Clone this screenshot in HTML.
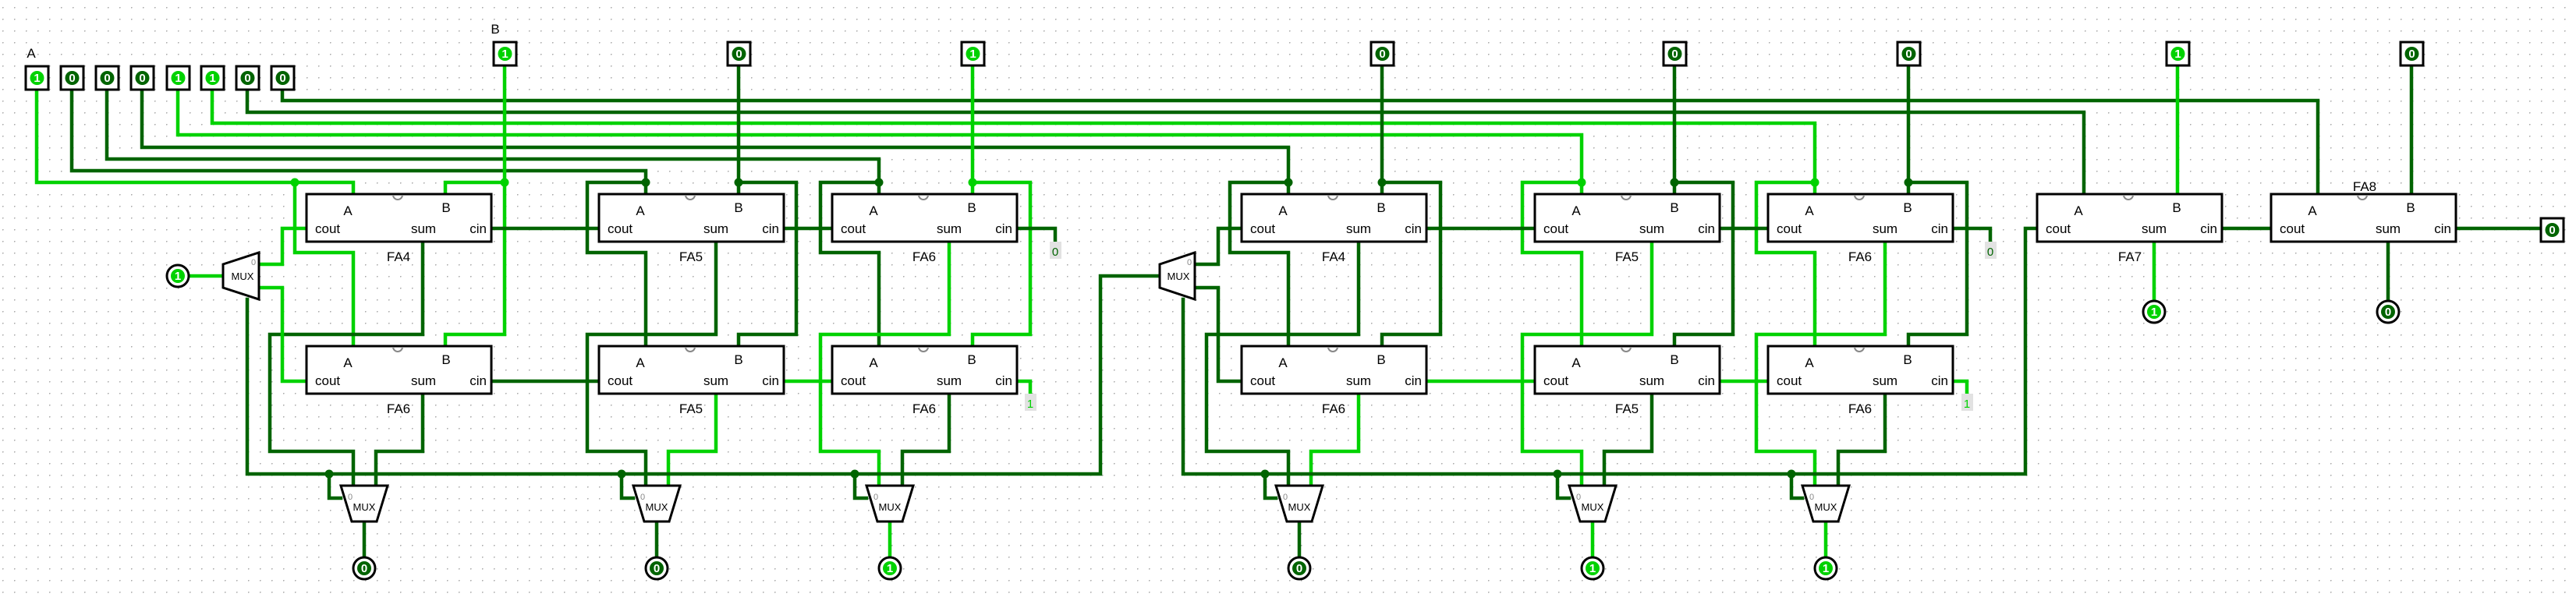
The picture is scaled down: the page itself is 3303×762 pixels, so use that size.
<!DOCTYPE html>
<html><head><meta charset="utf-8"><style>
html,body{margin:0;padding:0;background:#fff;}
svg{display:block;}
text{font-family:"Liberation Sans",sans-serif;}
.d{stroke:#006400;stroke-width:4.5;fill:none;stroke-linejoin:miter;stroke-linecap:square}
.g{stroke:#00d200;stroke-width:4.5;fill:none;stroke-linejoin:miter;stroke-linecap:square}
.bx{fill:none;stroke:#000;stroke-width:3}
.lb{font-size:17px;fill:#000}
.mx{fill:#fff;stroke:#000;stroke-width:3}
.pv{font-size:15px;font-weight:bold;fill:#fff;text-anchor:middle}
</style></head><body>
<svg width="3303" height="762" viewBox="0 0 3303 762" xmlns="http://www.w3.org/2000/svg">
<defs>
<pattern id="grid" x="3" y="9" width="15" height="15" patternUnits="userSpaceOnUse">
<circle cx="0.75" cy="0.75" r="0.9" fill="#aaa"/>
</pattern>
<g id="fa">
<rect x="0" y="0" width="237" height="61" fill="#fff" stroke="#000" stroke-width="3"/>
<path d="M111 1 A6 6 0 0 0 123 1" fill="none" stroke="#888" stroke-width="2"/>
<text x="53" y="27" class="lb" text-anchor="middle">A</text>
<text x="179" y="23" class="lb" text-anchor="middle">B</text>
<text x="11" y="50" class="lb">cout</text>
<text x="150" y="50" class="lb" text-anchor="middle">sum</text>
<text x="231" y="50" class="lb" text-anchor="end">cin</text>
</g>
</defs>
<rect width="3303" height="762" fill="url(#grid)"/>

<!-- A bus -->
<path class="g" d="M47 115 V234 H453 V249"/>
<path class="d" d="M92 115 V219 H828 V249"/>
<path class="d" d="M137 115 V204 H1127 V249"/>
<path class="d" d="M182 115 V189 H1652 V249"/>
<path class="g" d="M228 115 V173 H2028 V249"/>
<path class="g" d="M272 115 V158 H2327 V249"/>
<path class="d" d="M317 115 V144 H2672 V249"/>
<path class="d" d="M362 115 V129 H2972 V249"/>

<!-- B lines -->
<path class="g" d="M647 85 V429 H571 V444"/>
<path class="g" d="M647 234 H571 V249"/>
<path class="d" d="M947 85 V249"/><path class="d" d="M947 234 H1021 V429 H947 V444"/>
<path class="g" d="M1247 85 V249"/><path class="g" d="M1247 234 H1321 V429 H1247 V444"/>
<path class="d" d="M1772 85 V249"/><path class="d" d="M1772 234 H1847 V429 H1772 V444"/>
<path class="d" d="M2147 85 V249"/><path class="d" d="M2147 234 H2222 V429 H2147 V444"/>
<path class="d" d="M2447 85 V249"/><path class="d" d="M2447 234 H2522 V429 H2447 V444"/>
<path class="g" d="M2792 85 V249"/>
<path class="d" d="M3092 85 V249"/>

<!-- A column routing -->
<path class="g" d="M378 234 V324 H453 V444"/>
<path class="d" d="M828 234 H753 V324 H828 V444"/>
<path class="d" d="M1127 234 H1052 V324 H1127 V444"/>
<path class="d" d="M1652 234 H1577 V324 H1652 V444"/>
<path class="g" d="M2028 234 H1952 V324 H2028 V444"/>
<path class="g" d="M2327 234 H2252 V324 H2327 V444"/>

<!-- top sums -->
<path class="d" d="M542 310 V429 H346 V579 H453 V623"/>
<path class="d" d="M918 310 V429 H753 V579 H828 V623"/>
<path class="g" d="M1217 310 V429 H1052 V579 H1127 V623"/>
<path class="d" d="M1742 310 V429 H1547 V579 H1652 V623"/>
<path class="g" d="M2118 310 V429 H1952 V579 H2028 V623"/>
<path class="g" d="M2417 310 V429 H2252 V579 H2327 V623"/>
<!-- lower sums -->
<path class="d" d="M542 505 V579 H482 V623"/>
<path class="g" d="M918 505 V579 H857 V623"/>
<path class="d" d="M1217 505 V579 H1157 V623"/>
<path class="g" d="M1742 505 V579 H1681 V623"/>
<path class="d" d="M2118 505 V579 H2057 V623"/>
<path class="d" d="M2417 505 V579 H2357 V623"/>

<!-- carries -->
<path class="d" d="M630 293 H768"/><path class="d" d="M630 489 H768"/>
<path class="d" d="M1005 293 H1067"/><path class="g" d="M1005 489 H1067"/>
<path class="d" d="M1304 293 H1353 V310"/><path class="g" d="M1304 489 H1321 V505"/>
<path class="d" d="M1829 293 H1968"/><path class="g" d="M1829 489 H1968"/>
<path class="d" d="M2205 293 H2267"/><path class="g" d="M2205 489 H2267"/>
<path class="d" d="M2504 293 H2552 V310"/><path class="g" d="M2504 489 H2522 V505"/>
<path class="d" d="M2849 293 H2912"/>
<path class="d" d="M3149 293 H3258"/>
<path class="g" d="M2762 310 V386"/>
<path class="d" d="M3062 310 V386"/>

<!-- left mux nets -->
<path class="g" d="M393 293 H362 V339 H332"/>
<path class="g" d="M393 489 H362 V369 H332"/>
<path class="g" d="M228 354 H286"/>
<path class="d" d="M317 384 V608 H1411 V354 H1487"/>
<path class="d" d="M1592 293 H1562 V339 H1532"/>
<path class="d" d="M1592 489 H1562 V369 H1532"/>
<path class="d" d="M1517 384 V608 H2597 V293 H2612"/>

<!-- bottom mux selects & outputs -->
<path class="d" d="M422 608 V639 H437"/><path class="d" d="M467 670 V714"/>
<path class="d" d="M797 608 V639 H812"/><path class="d" d="M842 670 V714"/>
<path class="d" d="M1096 608 V639 H1111"/><path class="g" d="M1141 670 V714"/>
<path class="d" d="M1622 608 V639 H1636"/><path class="d" d="M1666 670 V714"/>
<path class="d" d="M1997 608 V639 H2012"/><path class="g" d="M2042 670 V714"/>
<path class="d" d="M2297 608 V639 H2311"/><path class="g" d="M2341 670 V714"/>

<!-- junction dots -->
<g fill="#00d200"><circle cx="378" cy="234" r="5.5"/><circle cx="647" cy="234" r="5.5"/><circle cx="1247" cy="234" r="5.5"/><circle cx="2028" cy="234" r="5.5"/><circle cx="2327" cy="234" r="5.5"/></g>
<g fill="#006400"><circle cx="828" cy="234" r="5.5"/><circle cx="947" cy="234" r="5.5"/><circle cx="1127" cy="234" r="5.5"/><circle cx="1652" cy="234" r="5.5"/><circle cx="1772" cy="234" r="5.5"/><circle cx="2147" cy="234" r="5.5"/><circle cx="2447" cy="234" r="5.5"/>
<circle cx="422" cy="608" r="5.5"/><circle cx="797" cy="608" r="5.5"/><circle cx="1096" cy="608" r="5.5"/><circle cx="1622" cy="608" r="5.5"/><circle cx="1997" cy="608" r="5.5"/><circle cx="2297" cy="608" r="5.5"/></g>

<!-- FA boxes -->
<use href="#fa" x="393" y="249"/><use href="#fa" x="393" y="444"/>
<use href="#fa" x="768" y="249"/><use href="#fa" x="768" y="444"/>
<use href="#fa" x="1067" y="249"/><use href="#fa" x="1067" y="444"/>
<use href="#fa" x="1592" y="249"/><use href="#fa" x="1592" y="444"/>
<use href="#fa" x="1968" y="249"/><use href="#fa" x="1968" y="444"/>
<use href="#fa" x="2267" y="249"/><use href="#fa" x="2267" y="444"/>
<use href="#fa" x="2612" y="249"/><use href="#fa" x="2912" y="249"/>
<g class="lb" text-anchor="middle">
<text x="511" y="335">FA4</text><text x="511" y="530">FA6</text>
<text x="886" y="335">FA5</text><text x="886" y="530">FA5</text>
<text x="1185" y="335">FA6</text><text x="1185" y="530">FA6</text>
<text x="1710" y="335">FA4</text><text x="1710" y="530">FA6</text>
<text x="2086" y="335">FA5</text><text x="2086" y="530">FA5</text>
<text x="2385" y="335">FA6</text><text x="2385" y="530">FA6</text>
<text x="2731" y="335">FA7</text><text x="3032" y="245">FA8</text>
<text x="40" y="74">A</text><text x="635" y="43">B</text>
</g>

<!-- constants -->
<rect x="1346" y="310" width="15" height="22" fill="#e2e2e2"/><text x="1353" y="328" font-size="15" fill="#006400" text-anchor="middle">0</text>
<rect x="1314" y="505" width="15" height="22" fill="#e2e2e2"/><text x="1321" y="523" font-size="15" fill="#00d200" text-anchor="middle">1</text>
<rect x="2545" y="310" width="15" height="22" fill="#e2e2e2"/><text x="2552" y="328" font-size="15" fill="#006400" text-anchor="middle">0</text>
<rect x="2515" y="505" width="15" height="22" fill="#e2e2e2"/><text x="2522" y="523" font-size="15" fill="#00d200" text-anchor="middle">1</text>

<!-- muxes -->
<polygon class="mx" points="286,339 332,324 332,384 286,369"/>
<text x="311" y="359" font-size="13" text-anchor="middle">MUX</text><text x="322" y="340" font-size="11" fill="#888">0</text>
<polygon class="mx" points="1487,339 1532,324 1532,384 1487,369"/>
<text x="1511" y="359" font-size="13" text-anchor="middle">MUX</text><text x="1522" y="340" font-size="11" fill="#888">0</text>
<g>
<polygon class="mx" points="437,623 497,623 483,669 451,669"/><text x="467" y="655" font-size="13" text-anchor="middle">MUX</text><text x="446" y="641" font-size="11" fill="#888">0</text>
<polygon class="mx" points="812,623 872,623 858,669 826,669"/><text x="842" y="655" font-size="13" text-anchor="middle">MUX</text><text x="821" y="641" font-size="11" fill="#888">0</text>
<polygon class="mx" points="1111,623 1171,623 1157,669 1125,669"/><text x="1141" y="655" font-size="13" text-anchor="middle">MUX</text><text x="1120" y="641" font-size="11" fill="#888">0</text>
<polygon class="mx" points="1636,623 1696,623 1682,669 1650,669"/><text x="1666" y="655" font-size="13" text-anchor="middle">MUX</text><text x="1645" y="641" font-size="11" fill="#888">0</text>
<polygon class="mx" points="2012,623 2072,623 2058,669 2026,669"/><text x="2042" y="655" font-size="13" text-anchor="middle">MUX</text><text x="2021" y="641" font-size="11" fill="#888">0</text>
<polygon class="mx" points="2311,623 2371,623 2357,669 2325,669"/><text x="2341" y="655" font-size="13" text-anchor="middle">MUX</text><text x="2320" y="641" font-size="11" fill="#888">0</text>
</g>

<!-- input pins A -->
<g stroke="#000" stroke-width="3" fill="#fff">
<rect x="33" y="85" width="29" height="30"/><rect x="78" y="85" width="29" height="30"/><rect x="123" y="85" width="29" height="30"/><rect x="168" y="85" width="29" height="30"/>
<rect x="214" y="85" width="29" height="30"/><rect x="258" y="85" width="29" height="30"/><rect x="303" y="85" width="29" height="30"/><rect x="348" y="85" width="29" height="30"/>
<rect x="633" y="54" width="29" height="30"/><rect x="933" y="54" width="29" height="30"/><rect x="1233" y="54" width="29" height="30"/><rect x="1758" y="54" width="29" height="30"/>
<rect x="2133" y="54" width="29" height="30"/><rect x="2433" y="54" width="29" height="30"/><rect x="2778" y="54" width="29" height="30"/><rect x="3078" y="54" width="29" height="30"/>
<rect x="3258" y="280" width="29" height="30"/>
</g>
<g>
<circle cx="47.5" cy="100" r="9" fill="#00d200"/><circle cx="92.5" cy="100" r="9" fill="#006400"/><circle cx="137.5" cy="100" r="9" fill="#006400"/><circle cx="182.5" cy="100" r="9" fill="#006400"/>
<circle cx="228.5" cy="100" r="9" fill="#00d200"/><circle cx="272.5" cy="100" r="9" fill="#00d200"/><circle cx="317.5" cy="100" r="9" fill="#006400"/><circle cx="362.5" cy="100" r="9" fill="#006400"/>
<circle cx="647.5" cy="69" r="9" fill="#00d200"/><circle cx="947.5" cy="69" r="9" fill="#006400"/><circle cx="1247.5" cy="69" r="9" fill="#00d200"/><circle cx="1772.5" cy="69" r="9" fill="#006400"/>
<circle cx="2147.5" cy="69" r="9" fill="#006400"/><circle cx="2447.5" cy="69" r="9" fill="#006400"/><circle cx="2792.5" cy="69" r="9" fill="#00d200"/><circle cx="3092.5" cy="69" r="9" fill="#006400"/>
<circle cx="3272.5" cy="295" r="9" fill="#006400"/>
</g>
<g class="pv">
<text x="47.5" y="105">1</text><text x="92.5" y="105">0</text><text x="137.5" y="105">0</text><text x="182.5" y="105">0</text>
<text x="228.5" y="105">1</text><text x="272.5" y="105">1</text><text x="317.5" y="105">0</text><text x="362.5" y="105">0</text>
<text x="647.5" y="74">1</text><text x="947.5" y="74">0</text><text x="1247.5" y="74">1</text><text x="1772.5" y="74">0</text>
<text x="2147.5" y="74">0</text><text x="2447.5" y="74">0</text><text x="2792.5" y="74">1</text><text x="3092.5" y="74">0</text>
<text x="3272.5" y="300">0</text>
</g>

<!-- round pins (input + outputs) -->
<g stroke="#000" stroke-width="3" fill="#fff">
<circle cx="228" cy="354" r="14"/>
<circle cx="467" cy="729" r="14"/><circle cx="842" cy="729" r="14"/><circle cx="1141" cy="729" r="14"/>
<circle cx="1666" cy="729" r="14"/><circle cx="2042" cy="729" r="14"/><circle cx="2341" cy="729" r="14"/>
<circle cx="2762" cy="400" r="14"/><circle cx="3062" cy="400" r="14"/>
</g>
<g>
<circle cx="228" cy="354" r="9" fill="#00d200"/>
<circle cx="467" cy="729" r="9" fill="#006400"/><circle cx="842" cy="729" r="9" fill="#006400"/><circle cx="1141" cy="729" r="9" fill="#00d200"/>
<circle cx="1666" cy="729" r="9" fill="#006400"/><circle cx="2042" cy="729" r="9" fill="#00d200"/><circle cx="2341" cy="729" r="9" fill="#00d200"/>
<circle cx="2762" cy="400" r="9" fill="#00d200"/><circle cx="3062" cy="400" r="9" fill="#006400"/>
</g>
<g class="pv">
<text x="228" y="359">1</text>
<text x="467" y="734">0</text><text x="842" y="734">0</text><text x="1141" y="734">1</text>
<text x="1666" y="734">0</text><text x="2042" y="734">1</text><text x="2341" y="734">1</text>
<text x="2762" y="405">1</text><text x="3062" y="405">0</text>
</g>
</svg>
</body></html>
